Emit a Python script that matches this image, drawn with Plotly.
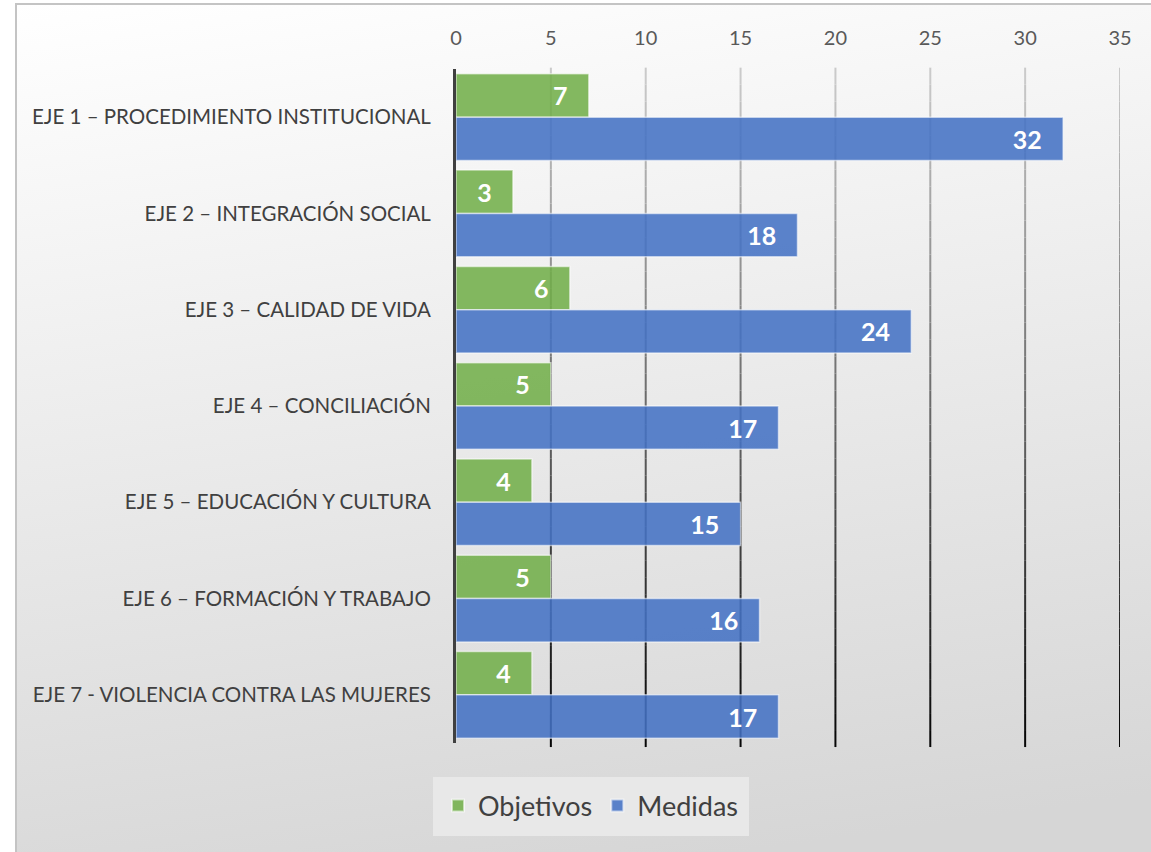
import base64
import plotly.graph_objects as go

categories = [
    "EJE 1 – PROCEDIMIENTO INSTITUCIONAL",
    "EJE 2 – INTEGRACIÓN SOCIAL",
    "EJE 3 – CALIDAD DE VIDA",
    "EJE 4 – CONCILIACIÓN",
    "EJE 5 – EDUCACIÓN Y CULTURA",
    "EJE 6 – FORMACIÓN Y TRABAJO",
    "EJE 7 - VIOLENCIA CONTRA LAS MUJERES",
]
objetivos = [7, 3, 6, 5, 4, 5, 4]
medidas = [32, 18, 24, 17, 15, 16, 17]
x_ticks = [0, 5, 10, 15, 20, 25, 30, 35]

W, H = 1151, 852
ML, MR, MT, MB = 456, 31, 69, 109
PW, PH = W - ML - MR, H - MT - MB

FONT = "Lato, sans-serif"

# background gradient (decorative), white outer frame, grey border on left and top
svg = f'''<svg xmlns="http://www.w3.org/2000/svg" width="{W}" height="{H}" viewBox="0 0 {W} {H}" preserveAspectRatio="none">
<defs><linearGradient id="g" gradientUnits="userSpaceOnUse" x1="15" y1="3" x2="148" y2="937">
<stop offset="0" stop-color="#ffffff"/><stop offset="1" stop-color="#d6d6d6"/></linearGradient></defs>
<rect x="0" y="0" width="{W}" height="{H}" fill="#ffffff"/>
<rect x="16" y="4" width="1300" height="1000" fill="url(#g)"/>
<path d="M16 {H+10} L16 4 L{W+10} 4" fill="none" stroke="#c4c4c4" stroke-width="2"/>
</svg>'''
src = "data:image/svg+xml;base64," + base64.b64encode(svg.encode("utf-8")).decode("ascii")

fig = go.Figure()
fig.add_trace(go.Bar(
    name="Objetivos", y=categories, x=objetivos, orientation="h",
    marker=dict(color="rgba(112,173,71,0.86)", line=dict(color="rgba(255,255,255,0.55)", width=1.5)),
    texttemplate="%{x}\u00a0\u00a0\u00a0", textposition="inside", insidetextanchor="end",
    textfont=dict(family=FONT, size=25, color="white", weight="bold"),
    constraintext="none",
))
fig.add_trace(go.Bar(
    name="Medidas", y=categories, x=medidas, orientation="h",
    marker=dict(color="rgba(68,114,196,0.88)", line=dict(color="rgba(255,255,255,0.55)", width=1.5)),
    texttemplate="%{x}\u00a0\u00a0\u00a0", textposition="inside", insidetextanchor="end",
    textfont=dict(family=FONT, size=25, color="white", weight="bold"),
    constraintext="none",
))

# gradient gridlines (light at top, black at bottom)
shapes = []
N = 40
yb, yt = -0.006, 1.002
for v in x_ticks[1:]:
    for i in range(N):
        t = (i + 0.5) / N  # 0 bottom -> 1 top
        c = int(5 + 200 * t)
        shapes.append(dict(
            type="line", xref="x", yref="paper", layer="below",
            x0=v, x1=v, y0=yb + (yt - yb) * i / N, y1=yb + (yt - yb) * (i + 1) / N,
            line=dict(color=f"rgb({c},{c},{c})", width=2),
        ))

fig.update_layout(
    width=W, height=H,
    margin=dict(l=ML, r=MR, t=MT, b=MB, autoexpand=False),
    paper_bgcolor="#e2e2e2", plot_bgcolor="rgba(0,0,0,0)",
    barmode="group", bargap=0.1, bargroupgap=0.0,
    font=dict(family=FONT, color="#404040"),
    images=[dict(source=src, xref="paper", yref="paper",
                 x=-ML / PW, y=1 + MT / PH, sizex=W / PW, sizey=H / PH,
                 sizing="stretch", xanchor="left", yanchor="top", layer="below")],
    shapes=shapes,
    xaxis=dict(range=[0, 35], tickvals=x_ticks, side="top", showgrid=False, zeroline=False,
               showline=False, ticks="", tickfont=dict(size=20, color="#595959", family=FONT),
               ticklabelstandoff=19, fixedrange=True, automargin=False),
    yaxis=dict(autorange="reversed", showgrid=False, zeroline=False, showline=True,
               linecolor="#404040", linewidth=3, ticks="",
               tickfont=dict(size=20.5, color="#404040", family=FONT),
               ticklabelstandoff=18, fixedrange=True, automargin=False),
    legend=dict(orientation="h", x=(591 - ML) / PW, xanchor="center",
                y=(H - MB - 806) / PH, yanchor="middle",
                bgcolor="#e8e8e8", bordercolor="#e8e8e8", borderwidth=5,
                font=dict(size=27, color="#404040", family=FONT),
                itemsizing="constant"),
    showlegend=True,
)

fig.write_html(
    "out.html", config={"displayModeBar": False},
    post_script=(
        "document.documentElement.style.overflow='hidden';"
        "document.documentElement.style.margin='0';"
        "document.body.style.margin='0';document.body.style.overflow='hidden';"
        "document.body.style.background='#dcdcdc';"
    ),
)
